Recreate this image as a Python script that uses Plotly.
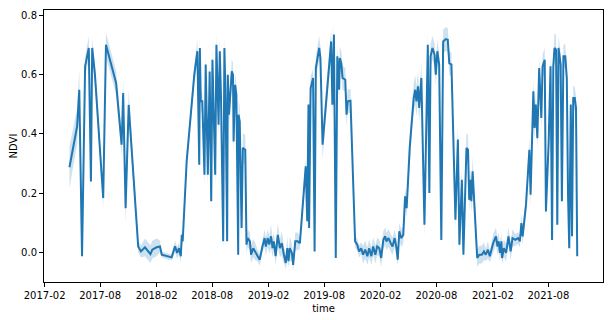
import plotly.graph_objects as go

dates = [
    "2017-04-23", "2017-05-18", "2017-05-25", "2017-06-03", "2017-06-13", "2017-06-25", "2017-07-02", "2017-07-06",
    "2017-07-15", "2017-08-11", "2017-08-20", "2017-09-22", "2017-10-10", "2017-10-15", "2017-10-23", "2017-11-02",
    "2017-12-03", "2017-12-12", "2017-12-25", "2018-01-03", "2018-01-12", "2018-01-18", "2018-02-01", "2018-02-12",
    "2018-02-18", "2018-03-22", "2018-04-02", "2018-04-09", "2018-04-15", "2018-04-21", "2018-04-24", "2018-04-27",
    "2018-05-10", "2018-06-04",
    "2018-06-14", "2018-06-20", "2018-06-22", "2018-06-25", "2018-06-30", "2018-07-07", "2018-07-11", "2018-07-18",
    "2018-07-24", "2018-07-29", "2018-08-02", "2018-08-11", "2018-08-15", "2018-08-22", "2018-08-26", "2018-08-30",
    "2018-09-06", "2018-09-10", "2018-09-14", "2018-09-19", "2018-09-21", "2018-09-25", "2018-10-04", "2018-10-08",
    "2018-10-10", "2018-10-15", "2018-10-19", "2018-10-25", "2018-10-26", "2018-10-30", "2018-11-05", "2018-11-09",
    "2018-11-17", "2018-11-21", "2018-11-25", "2018-12-02", "2018-12-06", "2018-12-13", "2018-12-19", "2018-12-26",
    "2019-01-03", "2019-01-12", "2019-01-19", "2019-01-23", "2019-01-29", "2019-02-03", "2019-02-09", "2019-02-14",
    "2019-02-18", "2019-02-24", "2019-03-03", "2019-03-10", "2019-03-16", "2019-03-23", "2019-03-29", "2019-04-03",
    "2019-04-07", "2019-04-11", "2019-04-18", "2019-04-22", "2019-04-29", "2019-05-07", "2019-05-14", "2019-06-02",
    "2019-06-07", "2019-06-11", "2019-06-13", "2019-06-18", "2019-06-22", "2019-06-26", "2019-07-01", "2019-07-05",
    "2019-07-16", "2019-07-20", "2019-07-27",
    "2019-08-24", "2019-08-28", "2019-09-02", "2019-09-08", "2019-09-13", "2019-09-19", "2019-09-21", "2019-09-26",
    "2019-09-30", "2019-10-09", "2019-10-13", "2019-10-17", "2019-10-26", "2019-11-10", "2019-11-17", "2019-11-23",
    "2019-11-30", "2019-12-06", "2019-12-13", "2019-12-20", "2019-12-26", "2020-01-02", "2020-01-08", "2020-01-15",
    "2020-01-21", "2020-01-28", "2020-02-03", "2020-02-10", "2020-02-16",
    "2020-02-20", "2020-02-27", "2020-03-05", "2020-03-11", "2020-03-18", "2020-03-24", "2020-03-28", "2020-04-02",
    "2020-04-08", "2020-04-15", "2020-04-21", "2020-04-26", "2020-05-06", "2020-05-15", "2020-05-19", "2020-05-24",
    "2020-05-28", "2020-06-02", "2020-06-06", "2020-06-13", "2020-06-23", "2020-07-04", "2020-07-09", "2020-07-13",
    "2020-07-19", "2020-07-26", "2020-07-30", "2020-08-04", "2020-08-10", "2020-08-17", "2020-08-23", "2020-09-01",
    "2020-09-07", "2020-09-12", "2020-09-19",
    "2020-10-02", "2020-10-10", "2020-10-15", "2020-10-23", "2020-10-28", "2020-11-07", "2020-11-12", "2020-11-16",
    "2020-11-20", "2020-11-23", "2020-11-27", "2020-12-12", "2020-12-19", "2020-12-27", "2021-01-03", "2021-01-09",
    "2021-01-16", "2021-01-22", "2021-02-02", "2021-02-11", "2021-02-16", "2021-02-20", "2021-02-24", "2021-03-01",
    "2021-03-03", "2021-03-09", "2021-03-16", "2021-03-24", "2021-03-31", "2021-04-06",
    "2021-04-15", "2021-04-24", "2021-04-30", "2021-05-05", "2021-05-09", "2021-05-20", "2021-05-31", "2021-06-04",
    "2021-06-13", "2021-06-17", "2021-06-21", "2021-06-26", "2021-07-02", "2021-07-09", "2021-07-13", "2021-07-20",
    "2021-07-24", "2021-08-02", "2021-08-08", "2021-08-13", "2021-08-17", "2021-08-21", "2021-08-26", "2021-08-30",
    "2021-09-03", "2021-09-10", "2021-09-14", "2021-09-19", "2021-09-25", "2021-09-30", "2021-10-04", "2021-10-08",
    "2021-10-13", "2021-10-17", "2021-10-21", "2021-10-26", "2021-10-30", "2021-11-03",
]

ndvi = [
    0.287, 0.425, 0.548, -0.013, 0.627, 0.689, 0.239, 0.689,
    0.600, 0.183, 0.700, 0.571, 0.363, 0.537, 0.149, 0.497,
    0.020, 0.003, 0.017, 0.005, -0.006, 0.009, 0.017, 0.020,
    -0.008, -0.017, 0.020, -0.002, 0.014, -0.013, 0.059, 0.037,
    0.307, 0.600,
    0.678, 0.295, 0.689, 0.509, 0.509, 0.262, 0.633, 0.262,
    0.610, 0.172, 0.649, 0.262, 0.700, 0.430, 0.678, 0.520,
    0.037, 0.689, 0.509, 0.037, 0.599, 0.464, 0.610, 0.599,
    0.374, 0.565, 0.531, -0.008, 0.464, 0.442, 0.082, 0.352,
    0.346, 0.026, 0.048, 0.037, -0.008, 0.014, 0.003, -0.008,
    -0.025, 0.020, 0.048, 0.020, 0.048, 0.026, 0.054, 0.014,
    0.037, -0.013, 0.059, 0.014, 0.031, -0.008, -0.036, 0.014,
    -0.030, 0.014, -0.002, -0.042, 0.037, 0.037, 0.031, 0.290,
    0.105, 0.498, 0.082, 0.554, 0.577, 0.588, 0.003, 0.621,
    0.689, 0.655, 0.363,
    0.711, 0.498, 0.734, -0.019, 0.661, 0.548, 0.655, 0.638,
    0.588, 0.582, 0.464, 0.509, 0.511, 0.037, 0.026, 0.003,
    0.014, -0.008, 0.009, -0.013, 0.014, -0.013, 0.020, -0.008,
    0.020, 0.014, -0.019, 0.042, 0.054,
    0.037, 0.048, 0.031, 0.020, 0.048, 0.014, -0.025, 0.071,
    0.048, 0.059, 0.189, 0.149, 0.352, 0.487, 0.520, 0.548,
    0.509, 0.560, 0.487, 0.588, 0.093, 0.700, 0.200, 0.661,
    0.689, 0.666, 0.599, 0.678, 0.633, 0.042, 0.711, 0.719,
    0.717, 0.638, 0.633,
    0.110, 0.380, 0.026, 0.245, -0.008, 0.352, 0.346, 0.177,
    0.245, 0.172, 0.273, -0.019, -0.008, -0.008, 0.003, -0.008,
    0.009, -0.013, 0.031, 0.054, 0.020, 0.037, -0.002, 0.037,
    -0.019, 0.014, -0.002, 0.054, 0.003, 0.048,
    0.042, 0.048, 0.037, 0.099, 0.054, 0.160, 0.346, 0.194,
    0.543, 0.419, 0.498, 0.385, 0.621, 0.453, 0.627, 0.649,
    0.138, 0.374, 0.627, 0.042, 0.627, 0.689, 0.683, 0.093,
    0.689, 0.633, 0.172, 0.661, 0.661, 0.588, 0.194, 0.014,
    0.498, 0.054, 0.520, 0.520, 0.487, -0.013,
]

# half-width of the 95% confidence band
ci = [
    0.07, 0.06, 0.07, 0.01, 0.03, 0.04, 0.05, 0.03,
    0.04, 0.03, 0.04, 0.04, 0.04, 0.05, 0.05, 0.05,
    0.02, 0.02, 0.03, 0.03, 0.03, 0.03, 0.03, 0.02,
    0.01, 0.01, 0.02, 0.02, 0.02, 0.02, 0.02, 0.02,
    0.03, 0.03,
    0.04, 0.04, 0.04, 0.04, 0.03, 0.04, 0.04, 0.04,
    0.04, 0.04, 0.04, 0.04, 0.04, 0.04, 0.04, 0.04,
    0.03, 0.04, 0.04, 0.03, 0.04, 0.04, 0.04, 0.04,
    0.04, 0.04, 0.04, 0.02, 0.05, 0.05, 0.03, 0.05,
    0.05, 0.03, 0.03, 0.03, 0.03, 0.03, 0.03, 0.02,
    0.02, 0.02, 0.03, 0.03, 0.03, 0.03, 0.04, 0.03,
    0.03, 0.03, 0.04, 0.03, 0.04, 0.03, 0.02, 0.04,
    0.02, 0.04, 0.03, 0.02, 0.03, 0.03, 0.02, 0.03,
    0.03, 0.04, 0.03, 0.04, 0.03, 0.03, 0.02, 0.04,
    0.04, 0.04, 0.05,
    0.04, 0.05, 0.04, 0.02, 0.04, 0.04, 0.04, 0.04,
    0.04, 0.04, 0.04, 0.04, 0.04, 0.02, 0.02, 0.02,
    0.02, 0.03, 0.03, 0.03, 0.03, 0.03, 0.03, 0.03,
    0.03, 0.03, 0.03, 0.03, 0.03,
    0.03, 0.03, 0.03, 0.03, 0.03, 0.03, 0.02, 0.03,
    0.03, 0.03, 0.03, 0.03, 0.04, 0.04, 0.05, 0.05,
    0.05, 0.05, 0.05, 0.05, 0.04, 0.04, 0.04, 0.04,
    0.04, 0.04, 0.04, 0.04, 0.04, 0.02, 0.04, 0.04,
    0.04, 0.04, 0.04,
    0.03, 0.05, 0.02, 0.04, 0.02, 0.05, 0.05, 0.04,
    0.04, 0.04, 0.05, 0.03, 0.03, 0.03, 0.03, 0.02,
    0.03, 0.02, 0.03, 0.03, 0.03, 0.03, 0.03, 0.03,
    0.02, 0.03, 0.03, 0.03, 0.03, 0.03,
    0.02, 0.02, 0.02, 0.03, 0.03, 0.03, 0.04, 0.04,
    0.04, 0.04, 0.04, 0.04, 0.04, 0.04, 0.04, 0.04,
    0.03, 0.04, 0.04, 0.03, 0.04, 0.05, 0.05, 0.03,
    0.04, 0.04, 0.04, 0.04, 0.04, 0.04, 0.04, 0.02,
    0.05, 0.03, 0.04, 0.04, 0.04, 0.01,
]

upper = [v + c for v, c in zip(ndvi, ci)]
lower = [v - c for v, c in zip(ndvi, ci)]

BLUE = "#1f77b4"

fig = go.Figure()
fig.add_trace(go.Scatter(x=dates, y=upper, mode="lines", line=dict(width=0),
                         hoverinfo="skip", showlegend=False))
fig.add_trace(go.Scatter(x=dates, y=lower, mode="lines", line=dict(width=0),
                         fill="tonexty", fillcolor="rgba(31,119,180,0.22)",
                         hoverinfo="skip", showlegend=False))
fig.add_trace(go.Scatter(x=dates, y=ndvi, mode="lines",
                         line=dict(color=BLUE, width=2), showlegend=False))

axis_common = dict(
    showgrid=False, zeroline=False, showline=True, linecolor="black", linewidth=1,
    mirror=True, ticks="outside", ticklen=4, tickwidth=1, tickcolor="black",
    tickfont=dict(family="DejaVu Sans", size=10, color="black"),
    automargin=False,
)

fig.update_layout(
    width=612, height=320,
    margin=dict(l=44, r=9, t=10, b=38),
    paper_bgcolor="white", plot_bgcolor="white",
    font=dict(family="DejaVu Sans", size=10, color="black"),
    xaxis=dict(
        **axis_common,
        type="date", range=["2017-01-30", "2022-01-26"],
        tick0="2017-02-01", dtick="M6", tickformat="%Y-%m",
        title=dict(text="time", font=dict(size=10), standoff=4),
    ),
    yaxis=dict(
        **axis_common,
        range=[-0.100, 0.817], tickvals=[0.0, 0.2, 0.4, 0.6, 0.8],
        tickformat=".1f",
        title=dict(text="NDVI", font=dict(size=10), standoff=1),
    ),
)

fig.write_html("out.html", config={"displayModeBar": False},
               post_script="document.body.style.margin='0px';")
